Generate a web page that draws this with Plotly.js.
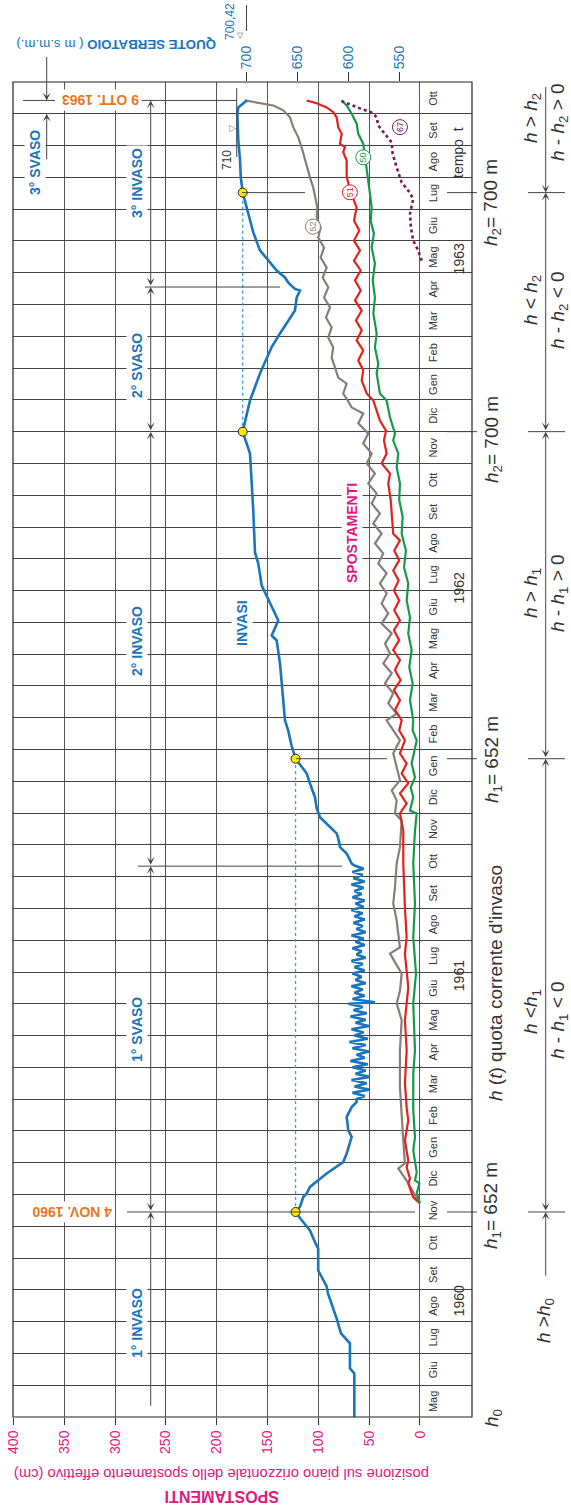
<!DOCTYPE html>
<html><head><meta charset="utf-8">
<script src="https://cdn.plot.ly/plotly-3.0.1.min.js"></script>
<style>html,body{margin:0;padding:0;background:#fff}#chart{width:571px;height:1505px}</style>
</head><body><div id="chart"></div>
<script>
// ---------------- DATA ----------------
// time t = months elapsed since 1 May 1960
const monthLabels = ['Mag','Giu','Lug','Ago','Set','Ott','Nov','Dic',
 'Gen','Feb','Mar','Apr','Mag','Giu','Lug','Ago','Set','Ott','Nov','Dic',
 'Gen','Feb','Mar','Apr','Mag','Giu','Lug','Ago','Set','Ott','Nov','Dic',
 'Gen','Feb','Mar','Apr','Mag','Giu','Lug','Ago','Set','Ott'];
const yearLabels = ['1960','1961','1962','1963'];
const yearPos = [3.67, 13.9, 26.1, 36.45];
const dispTicks = [0,50,100,150,200,250,300,350,400];
const levelTicks = [550,600,650,700];

// reservoir level (m s.m.m.)  -- INVASI
const invasi_t = [0,1.37,1.53,2.32,2.63,2.95,3.10,3.89,4.11,4.61,5.30,5.50,5.87,6.22,6.45,
 6.61,6.92,7.03,7.24,7.66,8.02,8.29,8.81,9.02,9.44,9.75,9.91,
 10.0,10.1,10.2,10.3,10.4,10.5,10.6,10.7,10.8,10.9,11.0,11.1,11.2,11.3,11.4,11.5,11.6,11.7,11.8,11.9,
 12.0,12.1,12.2,12.3,12.4,12.5,12.6,12.7,12.8,12.9,13.0,13.05,13.15,13.25,13.35,13.45,13.55,13.65,13.75,13.85,
 13.95,14.05,14.15,14.25,14.35,14.45,14.55,14.65,14.75,14.85,14.95,15.05,15.15,15.25,15.35,15.45,15.55,15.65,
 15.75,15.85,15.95,16.05,16.15,16.25,16.35,16.45,16.55,16.65,16.75,16.85,16.95,17.05,17.15,17.25,17.35,
 17.41,17.73,17.93,18.20,18.36,18.56,18.72,18.87,19.15,19.50,19.93,20.25,20.71,21.13,21.60,21.92,
 23.71,24.43,24.59,24.84,25.06,25.28,25.91,26.16,26.85,27.20,28.52,30.31,31.0,31.57,31.98,
 32.83,33.66,34.09,34.50,34.81,35.22,35.44,35.49,35.69,35.85,36.07,36.45,36.70,37.27,37.86,38.52,
 39.00,39.53,40.16,41.01,41.20,41.42];
const invasi_h = [594.2,594.2,598.5,598.5,607.3,610.0,611.6,620.1,621.4,629.7,629.7,632.9,637.8,646.7,652.0,
 647.7,644.4,641.1,637.8,621.4,605.1,601.7,596.8,600.1,601.7,596.8,591.9,
 592,584,596,580,594,582,597,579,593,583,596,581,598,584,592,580,596,583,599,581,
 594,585,597,580,593,583,598,582,595,586,600,574,596,584,594,586,597,583,593,587,
 596,584,594,586,597,583,592,587,596,584,593,585,597,583,592,586,595,584,
 594,586,597,585,593,584,596,587,594,585,597,584,595,586,596,585,594,
 596.8,601.7,608.3,609.9,611.6,618.1,623.1,628.0,631.2,632.9,637.8,641.1,652.0,656.0,659.3,662.4,
 667.3,670.6,675.5,672.2,669.0,672.2,682.1,685.3,688.7,691.9,693.6,696.8,704.0,700.1,696.8,
 687.0,675.5,667.3,659.2,652.6,650.9,647.7,652.6,659.2,662.4,670.6,680.4,687.0,693.6,698.5,704.0,
 705.9,706.6,708.3,709.3,708.3,700.1];

// threshold points (h1 = 652 m, h2 = 700 m)
const dot_t = [6.45, 20.71, 31.0, 38.52];
const dot_h = [652, 652, 704, 704];

// displacements (cm) of benchmarks
const p52_t = [6.81,7.44,7.82,7.98,8.70,9.74,10.37,11.53,12.48,13.01,13.40,13.95,14.58,14.77,15.62,16.15,16.66,17.42,17.92,
 18.77,18.99,19.40,19.71,20.03,20.44,20.88,21.29,21.70,21.92,22.13,22.45,22.77,23.08,23.40,23.71,24.02,24.33,24.65,
 24.96,25.28,25.59,25.91,26.22,26.54,26.85,27.17,27.48,27.79,28.11,28.42,28.74,29.05,29.37,29.68,30.00,30.31,30.63,
 30.94,31.26,31.57,31.76,31.98,32.20,32.51,32.70,33.02,33.33,33.65,33.96,34.28,34.59,34.91,35.22,35.54,35.85,36.16,
 36.48,36.79,37.11,37.42,37.74,38.05,38.37,38.68,39.00,39.31,39.63,39.94,40.26,40.57,40.89,41.11,41.26,41.32,41.36,41.42];
const p52_d = [2,13.1,21.3,14.8,16.4,18.0,19.7,19.7,18.0,22.9,19.7,18.0,29.5,19.7,22.9,26.3,24.6,22.9,19.7,
 18.0,24.6,22.9,27.8,19.7,22.9,26.3,19.7,27.8,32.8,22.9,31.2,26.3,34.4,27.8,36.1,29.5,34.4,27.8,
 37.7,31.2,37.7,32.8,39.4,32.8,41.0,36.1,44.3,37.7,45.9,39.4,47.5,42.6,50.9,44.3,52.4,47.5,55.8,
 50.9,60.7,55.8,67.2,71.0,75.5,72.1,80.4,83.6,86.9,85.3,90.2,86.9,92.5,88.5,94.4,90.2,95.7,91.8,
 97.7,94.4,100.1,97.7,101.6,101.0,103.3,105.0,108.2,110.9,113.1,116.4,119.7,124.6,127.9,134.5,144.3,154.2,164.0,172.2];

const p51_t = [6.72,6.91,7.35,7.50,7.86,8.07,8.70,9.33,9.74,10.50,11.53,12.48,13.52,14.58,15.09,16.03,17.42,18.45,18.99,
 19.30,19.62,19.93,20.25,20.56,20.88,21.29,21.60,21.92,22.24,22.55,22.87,23.18,23.50,23.81,24.13,24.44,24.75,25.06,
 25.38,25.69,26.00,26.32,26.63,26.95,27.26,27.58,27.79,28.32,28.85,29.37,29.68,30.00,30.31,30.72,31.03,31.35,31.67,
 31.98,32.20,32.61,32.93,33.24,33.56,33.87,34.19,34.50,34.81,35.13,35.44,35.76,36.07,36.38,36.70,37.01,37.33,37.64,
 38.05,38.27,38.53,39.01,39.53,39.79,39.95,40.06,40.37,40.58,40.89,41.05,41.20,41.33,41.42];
const p51_d = [0,6.6,11.5,9.8,13.1,11.5,14.8,11.5,13.1,14.8,13.1,14.8,11.5,14.8,13.1,14.8,16.4,16.4,19.7,
 13.1,19.7,11.5,18.0,13.1,19.7,14.8,20.4,18.0,24.6,19.7,25.6,19.0,24.6,19.7,26.3,20.4,25.6,19.7,
 25.3,20.4,25.6,21.0,26.3,20.4,25.3,19.7,26.3,27.8,28.8,31.2,29.5,37.7,32.8,35.4,33.4,39.4,42.6,
 45.9,52.4,57.3,55.8,60.7,55.8,62.3,57.3,63.0,57.3,63.9,58.3,63.9,58.3,64.9,59.0,64.9,59.7,64.9,
 62.3,64.9,68.0,72.1,72.1,75.5,73.8,78.7,77.0,80.4,82.0,85.3,91.8,101.6,111.5];

const p50_t = [6.72,7.04,7.35,7.44,7.70,8.39,8.80,9.65,10.81,11.53,13.01,13.95,15.09,16.15,17.42,18.45,18.99,19.08,19.50,
 19.81,20.12,20.56,21.29,21.60,21.92,22.55,23.08,23.59,24.13,24.65,25.16,25.69,26.22,26.73,27.26,27.79,28.32,28.85,
 29.37,29.87,30.31,30.72,30.94,31.45,31.98,32.20,32.83,33.14,33.65,34.09,34.72,35.22,35.76,36.29,36.79,37.23,37.64,
 38.05,38.49,38.90,39.31,40.06,40.37,40.69,41.00,41.26,41.42];
const p50_d = [0,3.2,0.5,4.9,3.2,6.6,4.9,6.6,6.6,4.9,6.6,3.9,6.6,4.9,6.6,4.9,3.2,9.8,6.6,
 9.1,4.9,8.2,3.2,7.2,6.6,9.8,7.2,10.5,8.2,11.5,9.8,13.1,11.5,15.7,13.8,18.0,17.0,20.4,
 19.7,22.9,21.3,26.3,24.6,29.5,32.8,39.4,42.6,41.0,44.3,42.6,45.9,44.3,46.5,44.3,47.5,45.3,48.5,
 47.5,49.2,50.9,52.4,55.8,60.7,62.3,67.2,72.1,77.0];

const p67_t = [36.38,36.70,37.01,37.42,37.86,38.33,38.58,38.84,39.31,39.75,40.10,40.37,40.63,40.89,41.04,41.17,41.29,41.42];
const p67_d = [-1.7,1.7,6.6,8.9,9.8,6.6,11.5,18.0,22.9,26.9,27.8,34.4,41.0,42.6,47.5,59.0,68.9,78.7];

// benchmark tags
const tag_text = ['52','51','50','67'];
const tag_t = [37.45, 38.53, 39.63, 40.58];
const tag_d = [105.3, 68.9, 55.8, 19.7];

// ---------------- STYLE / GEOMETRY ----------------
const BLUE='#1a75bc', ORANGE='#e8771f', MAG='#e0197d', DARK='#333333';
const C52='#8a7d76', C51='#e4211c', C50='#16994a', C67='#7b1752';
const NARROW='"Liberation Sans Narrow","Arial Narrow","Liberation Sans",Arial,sans-serif';
const SANS='"Liberation Sans",Arial,sans-serif';
const OFFSET = 529.6;           // level (m) = displacement (cm) + OFFSET on the shared scale
const XR = [400.4, -51.2];
const PL=13, PR=99, PT=82, PB=88, PW=571-PL-PR, PH=1505-PT-PB;
const pxX = px => (px-PL)/PW;
const pxY = py => (1505-PB-py)/PH;

const traces = [
 {x:[dot_h[0],dot_h[1],null,dot_h[2],dot_h[3]], y:[dot_t[0],dot_t[1],null,dot_t[2],dot_t[3]], xaxis:'x2', yaxis:'y',
  mode:'lines', line:{color:'#3a9be0', width:1.3, dash:'3px,3px'}, hoverinfo:'skip'},
 {x:p52_d, y:p52_t, mode:'lines', line:{color:C52, width:2.2}},
 {x:p51_d, y:p51_t, mode:'lines', line:{color:C51, width:2.2}},
 {x:p50_d, y:p50_t, mode:'lines', line:{color:C50, width:2.2}},
 {x:p67_d, y:p67_t, mode:'lines', line:{color:C67, width:2.6, dash:'dot'}},
 {x:invasi_h, y:invasi_t, xaxis:'x2', yaxis:'y', mode:'lines', line:{color:BLUE, width:2.6}},
 {x:dot_h, y:dot_t, xaxis:'x2', yaxis:'y', mode:'markers', marker:{size:9, color:'#ffe800', line:{color:'#222', width:1}}},
 {x:tag_d, y:tag_t, mode:'markers', marker:{size:15, color:'white', line:{color:[C52,C51,C50,C67], width:1}}}
];

const ann = [];
function A(o){ ann.push(Object.assign({showarrow:false, xanchor:'center', yanchor:'middle'}, o)); }

// month & year labels
monthLabels.forEach((m,i)=>A({xref:'x', x:-12.8, yref:'y', y:i+0.5, text:m, textangle:-90, font:{family:NARROW, size:11, color:DARK}}));
yearLabels.forEach((yv,i)=>A({xref:'x', x:-38.4, yref:'y', y:yearPos[i], text:yv, textangle:-90, font:{family:NARROW, size:14, color:DARK}}));

// tags
tag_text.forEach((s,i)=>A({xref:'x', x:tag_d[i], yref:'y', y:tag_t[i], text:s, textangle:-90, font:{family:NARROW, size:9, color:[C52,C51,C50,C67][i]}}));

// phase labels (left)
const lbl = (px,py,txt,col,sz,ang,bg) => A({xref:'paper', x:pxX(px), yref:'paper', y:pxY(py), text:txt, textangle:ang,
   font:{family:NARROW, size:sz, color:col}, bgcolor:bg||'rgba(0,0,0,0)', borderpad:2});
lbl(137,1323,'<b>1° INVASO</b>',BLUE,14,-90,'white');
lbl(137,1030,'<b>1° SVASO</b>',BLUE,14,-90,'white');
lbl(137,641,'<b>2° INVASO</b>',BLUE,14,-90,'white');
lbl(137,366,'<b>2° SVASO</b>',BLUE,14,-90,'white');
lbl(137,183,'<b>3° INVASO</b>',BLUE,14,-90,'white');
lbl(35,163,'<b>3° SVASO</b>',BLUE,14,-90,'white');
lbl(242,623,'<b>INVASI</b>',BLUE,14,-90,'white');
lbl(352,533,'<b>SPOSTAMENTI</b>',MAG,14,-90,'white');
lbl(72,1212,'<b>4 NOV. 1960</b>',ORANGE,14,180,'white');
lbl(101,100,'<b>9 OTT. 1963</b>',ORANGE,14,180,'white');
lbl(227,160,'710',DARK,12,-90);
lbl(232,129,'▽','#777',9,-90);
lbl(116,45,'<b>QUOTE SERBATOIO</b> ( m s.m.m.)',BLUE,13.3,180);
lbl(230,22,'700,42',BLUE,12,-90);
lbl(240,36,'▽','#555',8,0);
lbl(222,1474,'posizione sul piano orizzontale dello spostamento effettivo (cm)',MAG,14.8,180);
lbl(222,1497,'<b>SPOSTAMENTI</b>',MAG,16,180);

// right-side notes
lbl(458,153,'tempo  t',DARK,14,-90);
const RS = 19;
lbl(492,202,'<i>h</i><sub>2</sub>= 700 m',DARK,RS,-90);
lbl(493,440,'<i>h</i><sub>2</sub>= 700 m',DARK,RS,-90);
lbl(493,760,'<i>h</i><sub>1</sub>= 652 m',DARK,RS,-90);
lbl(495,983,'<i>h</i> (<i>t</i>) quota corrente d\'invaso',DARK,RS,-90);
lbl(492,1205,'<i>h</i><sub>1</sub>= 652 m',DARK,RS,-90);
lbl(493,1418,'<i>h</i><sub>0</sub>',DARK,RS,-90);
lbl(532,118,'<i>h</i> > <i>h</i><sub>2</sub>',DARK,RS,-90);
lbl(559,122,'<i>h</i> - <i>h</i><sub>2</sub> > 0',DARK,RS,-90);
lbl(532,300,'<i>h</i> < <i>h</i><sub>2</sub>',DARK,RS,-90);
lbl(559,310,'<i>h</i> - <i>h</i><sub>2</sub> < 0',DARK,RS,-90);
lbl(532,593,'<i>h</i> > <i>h</i><sub>1</sub>',DARK,RS,-90);
lbl(559,593,'<i>h</i> - <i>h</i><sub>1</sub> > 0',DARK,RS,-90);
lbl(532,1012,'<i>h</i> <<i>h</i><sub>1</sub>',DARK,RS,-90);
lbl(559,1020,'<i>h</i> - <i>h</i><sub>1</sub> < 0',DARK,RS,-90);
lbl(545,1321,'<i>h</i> ><i>h</i><sub>0</sub>',DARK,RS,-90,'white');

// dimension arrows
function dim(px, tHead, tTail, side){
  ann.push({xref:'paper', x:pxX(px), yref:'y', y:tHead, axref:'pixel', ax:0, ayref:'y', ay:tTail, text:'',
    showarrow:true, arrowside:side, arrowhead:3, startarrowhead:3, arrowsize:1.3, startarrowsize:1.3,
    arrowwidth:1, arrowcolor:'#444', standoff:0, startstandoff:0});
}
const tEnd = 41.42, tSvaso1 = 17.33, tSvaso2 = 35.55;
dim(150.7, dot_t[0], 0.305, 'end');
dim(150.7, tSvaso1, dot_t[0], 'end+start');
dim(150.7, dot_t[2], tSvaso1, 'end+start');
dim(150.7, tSvaso2, dot_t[2], 'end+start');
dim(150.7, tEnd, tSvaso2, 'end+start');
dim(545.7, dot_t[0], 4.40, 'end');
dim(545.7, dot_t[1], dot_t[0], 'end+start');
dim(545.7, dot_t[2], dot_t[1], 'end+start');
dim(545.7, dot_t[3], dot_t[2], 'end+start');
dim(545.7, dot_t[3], 41.89, 'end');
function pdim(px, tHead, dy){
  ann.push({xref:'paper', x:pxX(px), yref:'y', y:tHead, axref:'pixel', ax:0, ayref:'pixel', ay:dy, text:'',
    showarrow:true, arrowhead:3, arrowsize:1.3, arrowwidth:1, arrowcolor:'#444', standoff:0});
}
pdim(46.7, tEnd, -45);
pdim(46.7, 41.0, 47);

// shapes
const shapes = [];
const tY = t => t/42;
function hseg(t, a, b, col){ shapes.push({type:'line', xref:'paper', yref:'paper', x0:pxX(a), x1:pxX(b), y0:tY(t), y1:tY(t), line:{color:col||'#444', width:1}}); }
[dot_t[0],dot_t[1],dot_t[2],dot_t[3]].forEach(t=>{ hseg(t,447,477); hseg(t,528,565); });
hseg(dot_t[0],127,415);
hseg(dot_t[1],296,387);
hseg(dot_t[3],242,305);
hseg(tSvaso1,138,342);
hseg(tSvaso2,145,280);
hseg(tEnd,140,237);
hseg(tEnd,23,55);
shapes.push({type:'line', xref:'paper', yref:'paper', x0:pxX(236.7), x1:pxX(236.7), y0:pxY(88), y1:pxY(157), line:{color:'#444', width:1}});
shapes.push({type:'line', xref:'paper', yref:'paper', x0:pxX(246.5), x1:pxX(246.5), y0:pxY(5), y1:pxY(31), line:{color:'#444', width:1}});
shapes.push({type:'rect', xref:'paper', yref:'paper', x0:0, x1:1, y0:0, y1:1, line:{color:'#222', width:1.2}});

const gridY = []; for (let i=1;i<42;i++) gridY.push(i);

const layout = {
  width:571, height:1505, margin:{l:PL, r:PR, t:PT, b:PB, pad:0},
  paper_bgcolor:'white', plot_bgcolor:'white', showlegend:false,
  xaxis:{range:XR, tickvals:dispTicks, ticktext:dispTicks.map(String), tickangle:-90, ticks:'outside', ticklen:7, tickcolor:'#333',
    tickfont:{family:SANS, size:14, color:MAG}, showgrid:true, gridcolor:'#555', gridwidth:1, zeroline:false, showline:false, fixedrange:true},
  xaxis2:{overlaying:'x', side:'top', range:[XR[0]+OFFSET, XR[1]+OFFSET], tickvals:levelTicks, ticktext:levelTicks.map(String),
    tickangle:-90, ticks:'outside', ticklen:9, tickcolor:'#333', tickfont:{family:SANS, size:14, color:BLUE}, showgrid:false, zeroline:false, showline:false},
  yaxis:{range:[0,42], tickvals:gridY, showticklabels:false, ticks:'', showgrid:true, gridcolor:'#444', gridwidth:1, zeroline:false, showline:false},
  annotations: ann, shapes: shapes
};
Plotly.newPlot('chart', traces, layout, {displayModeBar:false, staticPlot:true});
</script></body></html>
